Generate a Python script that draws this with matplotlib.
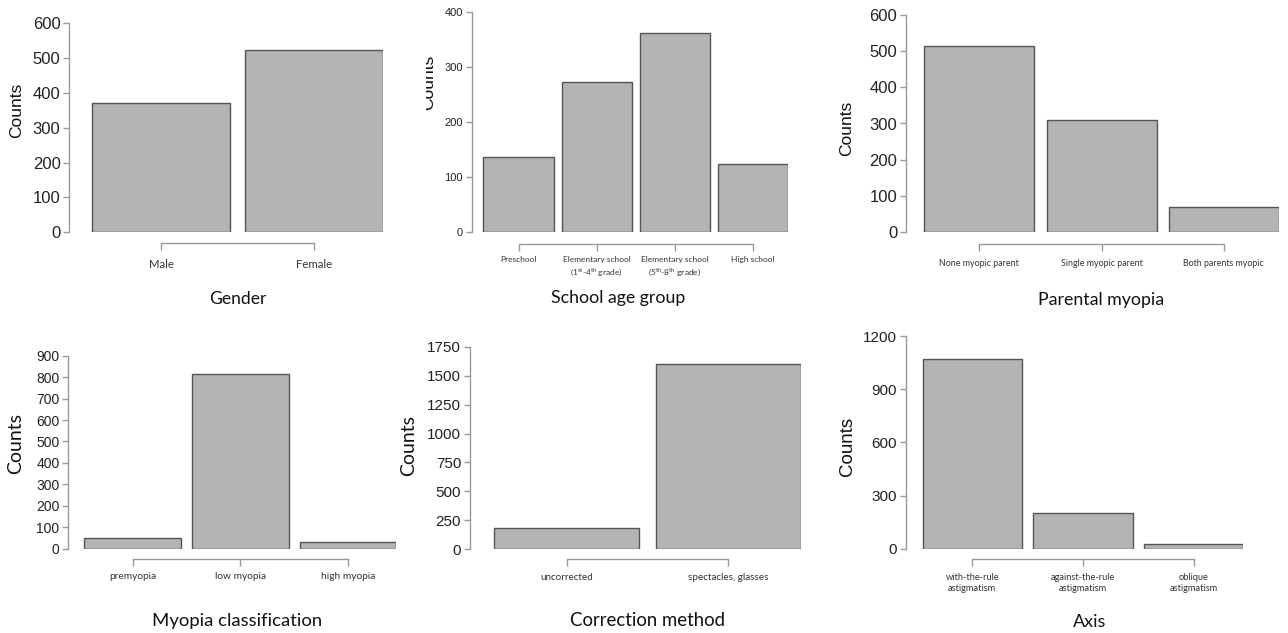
import matplotlib
matplotlib.use("Agg")
import matplotlib.pyplot as plt
from matplotlib.transforms import Bbox
import numpy as np

W, H = 1288, 633

# data
gender_cats = ['Male', 'Female']
gender_counts = [370, 523]

school_cats = ['Preschool',
               'Elementary school\n(1$^{\\mathrm{st}}$-4$^{\\mathrm{th}}$ grade)',
               'Elementary school\n(5$^{\\mathrm{th}}$-8$^{\\mathrm{th}}$ grade)',
               'High school']
school_counts = [137, 273, 362, 123]

parent_cats = ['None myopic parent', 'Single myopic parent', 'Both parents myopic']
parent_counts = [514, 310, 69]

myopia_cats = ['premyopia', 'low myopia', 'high myopia']
myopia_counts = [50, 813, 31]

correction_cats = ['uncorrected', 'spectacles, glasses']
correction_counts = [187, 1600]

axis_cats = ['with-the-rule\nastigmatism', 'against-the-rule\nastigmatism', 'oblique\nastigmatism']
axis_counts = [1068, 203, 28]

plt.rcParams['mathtext.fontset'] = 'custom'
plt.rcParams['mathtext.rm'] = 'Lato'

BAR = '#b3b3b3'
EDGE = '#555555'
SPINE = '#9a9a9a'
PX = 72 / 100  # points per pixel


def panel(fig, cats, counts, ymax, step, box, xlab, xlab_xy, ylab_xy,
          ytick_fs, xtick_fs, xlab_fs, ylab_fs, ylab_font, xoff, xpad):
    # box = (spine x, right edge of last bar, y of zero, y of top tick) in pixels
    x0, x1, yb, yt = box
    ax = fig.add_axes([x0 / W, 1 - yb / H, (x1 - x0) / W, (yb - yt) / H])
    n = len(cats)
    pos = np.arange(n)
    ax.bar(pos, counts, width=0.9, color=BAR, edgecolor=EDGE, linewidth=1.0)
    ax.set_xlim(-0.6, n - 1 + 0.45)
    ax.set_ylim(0, ymax)
    ax.set_yticks(np.arange(0, ymax + 1, step))
    ax.set_xticks(pos)
    for s in ['top', 'right']:
        ax.spines[s].set_visible(False)
    ax.spines['left'].set_bounds(0, ymax)
    ax.spines['bottom'].set_bounds(0, n - 1)
    ax.spines['bottom'].set_position(('outward', xoff * PX))
    for s in ['left', 'bottom']:
        ax.spines[s].set_color(SPINE)
        ax.spines[s].set_linewidth(1.0)
    ax.tick_params(axis='y', length=6 * PX, width=1, color=SPINE,
                   labelsize=ytick_fs, labelcolor='#222222', pad=2)
    ax.tick_params(axis='x', length=7 * PX, width=1, color=SPINE, pad=xpad * PX)
    ax.set_xticklabels(cats)
    for lab in ax.get_xticklabels():
        lab.set_family('Lato')
        lab.set_fontsize(xtick_fs)
        lab.set_color('#333333')
        lab.set_linespacing(1.3)
    for lab in ax.get_yticklabels():
        lab.set_family('Liberation Sans')
    ax.patch.set_alpha(0)
    fig.text(xlab_xy[0] / W, 1 - xlab_xy[1] / H, xlab, ha='center', va='center',
             fontsize=xlab_fs, family='Lato', color='#111111')
    t = fig.text(ylab_xy[0] / W, 1 - ylab_xy[1] / H, 'Counts', ha='center', va='center',
                 rotation=90, fontsize=ylab_fs, family=ylab_font, color='#111111')
    return ax, t


fig = plt.figure(figsize=(W / 100, H / 100), dpi=100)

panel(fig, gender_cats, gender_counts, 600, 100, (69.3, 383, 232.3, 23.3),
      'Gender', (238, 299), (16.7, 110), 12, 8.2, 12.6, 12.5, 'Liberation Sans', 11, 9)
ax2, t2 = panel(fig, school_cats, school_counts, 400, 100, (471.7, 788, 232.3, 11.7),
                'School age group', (618, 298), (429, 82), 8, 6.0, 12.8, 12.5,
                'Liberation Sans', 12, 5)
# the reference crops this label at the left edge of the panel
t2.set_clip_box(Bbox.from_extents(426, 0, W, H))
t2.set_clip_on(True)
panel(fig, parent_cats, parent_counts, 600, 100, (906, 1278.7, 232.3, 14.7),
      'Parental myopia', (1101, 300), (846.7, 128), 12, 6.4, 12.8, 12.5, 'Liberation Sans', 12, 8)
panel(fig, myopia_cats, myopia_counts, 900, 100, (68.3, 396.3, 548.7, 355.7),
      'Myopia classification', (237, 621), (15.7, 444), 10, 7.3, 13.3, 14, 'Lato', 10, 6)
panel(fig, correction_cats, correction_counts, 1750, 250, (470, 800.7, 549.3, 346.7),
      'Correction method', (648, 620), (408.3, 445), 11, 7.1, 13.4, 14, 'Lato', 10, 7)
panel(fig, axis_cats, axis_counts, 1200, 300, (906, 1243.3, 548.7, 336),
      'Axis', (1090, 622), (847.3, 446.7), 11, 6.7, 13, 13.5, 'Liberation Sans', 10, 7)

fig.savefig('out.png', dpi=100)
